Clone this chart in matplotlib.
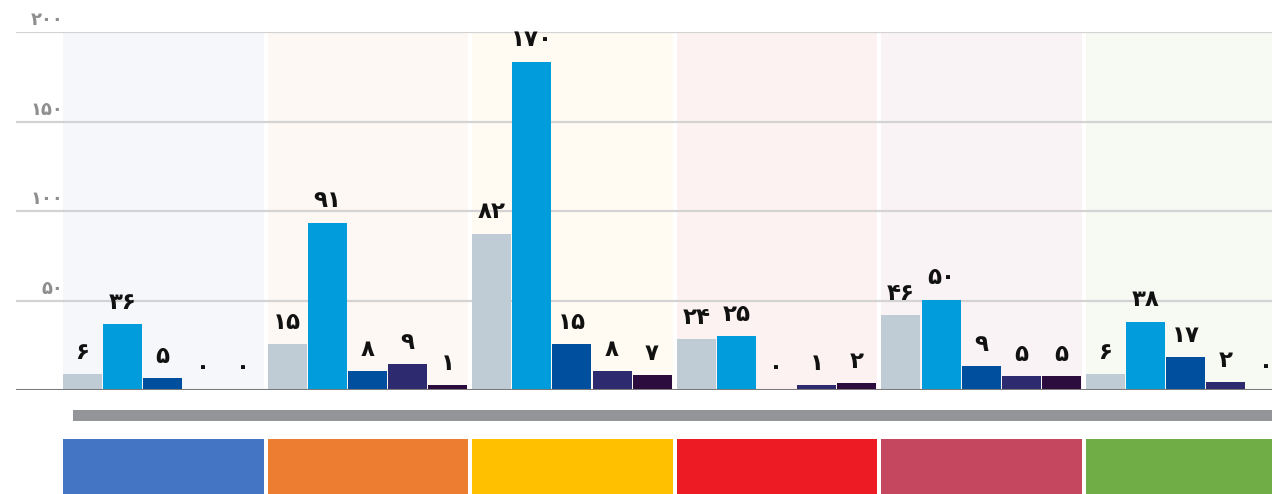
import matplotlib
matplotlib.use("Agg")
import matplotlib.pyplot as plt
import numpy as np

# ---- data ----
groups = ["g1", "g2", "g3", "g4", "g5", "g6"]
label_values = [
    [6, 36, 5, 0, 0],
    [15, 91, 8, 9, 1],
    [82, 170, 15, 8, 7],
    [24, 25, 0, 1, 2],
    [46, 50, 9, 5, 5],
    [6, 38, 17, 2, 0],
]
bar_heights = [
    [8.9, 36.8, 6.7, 0.6, 0.6],
    [25.6, 93.6, 10.6, 14.5, 2.8],
    [87.5, 183.3, 25.6, 10.6, 8.4],
    [28.4, 30.1, 0.6, 2.8, 3.9],
    [41.8, 50.7, 13.4, 7.8, 7.8],
    [8.9, 38.4, 18.4, 4.5, 1.0],
]
y_ticks = [50, 100, 150, 200]
bar_colors = ["#BFCCD6", "#009CDC", "#004F9E", "#2E2A6F", "#2C0B3E"]
panel_colors = ["#F5F7FB", "#FDF8F3", "#FFFBF2", "#FDF2F2", "#FAF3F5", "#F7F9F3"]
block_colors = ["#4474C4", "#ED7D31", "#FFC000", "#ED1C24", "#C5475F", "#70AD47"]

fa = str.maketrans("0123456789", "۰۱۲۳۴۵۶۷۸۹")
def persian(n):
    return str(n).translate(fa)

W, H = 1272, 494
fig = plt.figure(figsize=(W / 100, H / 100), dpi=100)

# pixel geometry
x_left_px, x_right_px = 16, 1272
y0_px, y200_px = 390.3, 32.3
g0_px, gstep_px = 63, 204.6

ax = fig.add_axes([x_left_px / W, (H - y0_px) / H,
                   (x_right_px - x_left_px) / W, (y0_px - y200_px) / H])
u_left = (x_left_px - g0_px) / gstep_px
u_right = (x_right_px - g0_px) / gstep_px
ax.set_xlim(u_left, u_right)
ax.set_ylim(0, 200)
ax.axis("off")

bar_step = 40.1 / gstep_px
bar_w = 39.0 / gstep_px
panel_w = 200.5 / gstep_px

for i, g in enumerate(groups):
    ax.axvspan(i, i + panel_w, ymin=0, ymax=1, color=panel_colors[i], zorder=0, lw=0)

for yt in y_ticks:
    ax.axhline(yt, color="#D3D3D3", lw=1.6, zorder=1)
    ax.text(0.5 / gstep_px, yt + 1.6, persian(yt), ha="right", va="bottom",
            fontsize=13, fontweight="bold", color="#8E8E8E", family="DejaVu Sans", zorder=3)

for i, g in enumerate(groups):
    for j in range(5):
        x = i + j * bar_step
        h = bar_heights[i][j]
        ax.bar(x, h, width=bar_w, align="edge", color=bar_colors[j], lw=0, zorder=2)
        ax.annotate(persian(label_values[i][j]), (x + bar_w / 2, h),
                    xytext=(0, 16), textcoords="offset points",
                    ha="center", va="center", fontsize=16.5, fontweight="bold",
                    color="#111111", family="DejaVu Sans", zorder=4)

ax.axhline(0, color="#7A7A7A", lw=2.2, zorder=3)

# lower decorations (gray strip and colored blocks)
ax2 = fig.add_axes([0, 0, 1, 1])
ax2.set_xlim(0, W)
ax2.set_ylim(H, 0)
ax2.axis("off")
ax2.add_patch(plt.Rectangle((73, 410), W - 73, 11, color="#949598", lw=0))
for i, c in enumerate(block_colors):
    x0 = g0_px + gstep_px * i
    ax2.add_patch(plt.Rectangle((x0, 439), 200.5, H - 439, color=c, lw=0))

fig.savefig("out.png", dpi=100)
